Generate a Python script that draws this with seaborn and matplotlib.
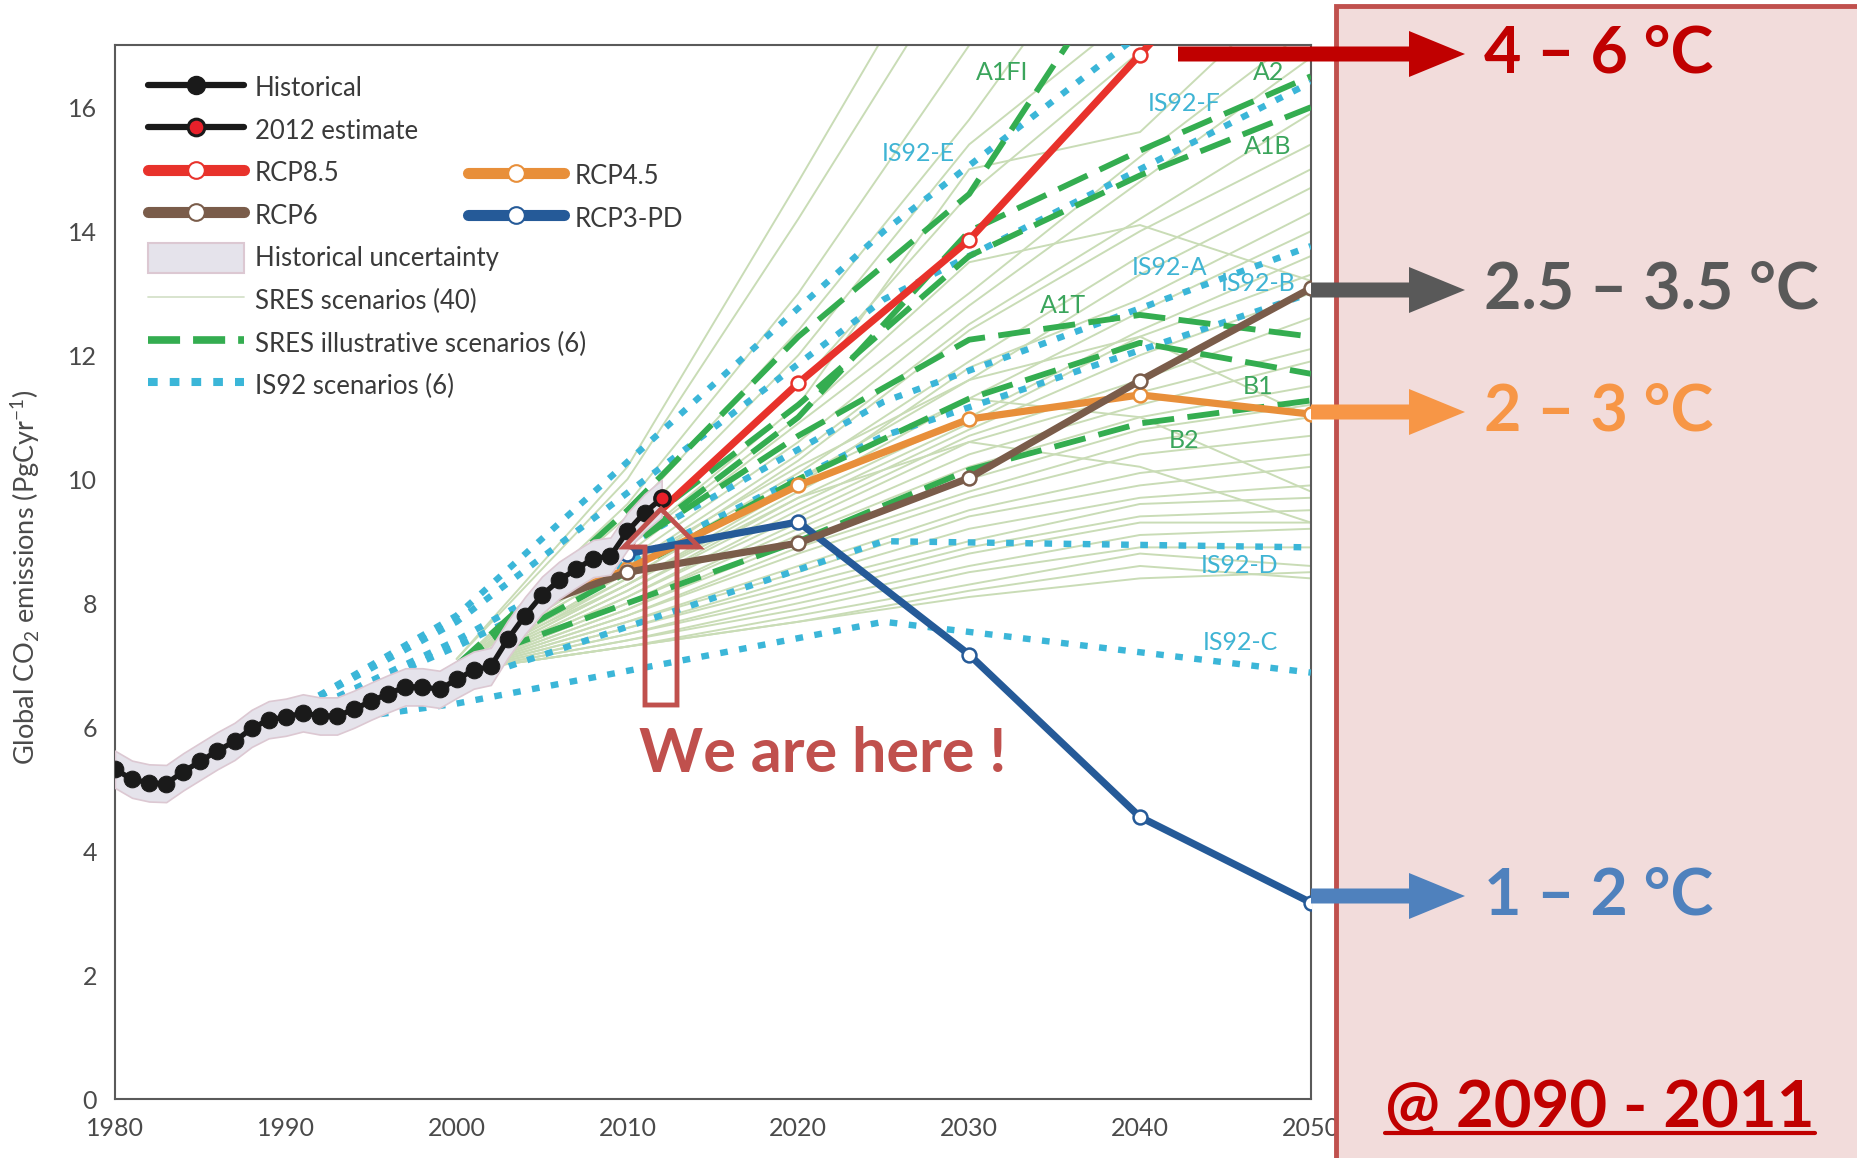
#for operations
import numpy as np
import pandas as pd

#for data visualisation
import matplotlib
matplotlib.use('Agg')
import matplotlib.pyplot as plt
import seaborn as sns
from matplotlib.lines import Line2D
from matplotlib.patches import Patch, Polygon, FancyArrow, Rectangle
from matplotlib.transforms import IdentityTransform

#historical emissions (PgC/yr)
hist_years = list(range(1980, 2013))
hist_vals = [5.32, 5.16, 5.10, 5.09, 5.28, 5.45, 5.62, 5.77, 5.98, 6.12,
             6.16, 6.23, 6.18, 6.18, 6.29, 6.42, 6.54, 6.65, 6.65, 6.61,
             6.77, 6.92, 6.98, 7.42, 7.80, 8.13, 8.37, 8.55, 8.72, 8.76,
             9.16, 9.46, 9.69]
est_year = 2012
est_val = 9.69
hist_unc = 0.3

#RCP pathways
rcp_years = [2005, 2010, 2020, 2030, 2040, 2050]
rcp85 = [8.0, 9.0, 11.55, 13.86, 16.85, 19.8]
rcp6 = [8.0, 8.5, 8.97, 10.02, 11.59, 13.08]
rcp45 = [8.0, 8.55, 9.9, 10.97, 11.36, 11.05]
rcp3pd = [8.0, 8.8, 9.31, 7.17, 4.55, 3.17]

#SRES illustrative scenarios
sres_years = [2000, 2010, 2020, 2030, 2040, 2050]
a1fi = [7.0, 9.5, 12.3, 14.6, 18.8, 23.0]
a1b = [7.0, 9.1, 11.2, 13.6, 14.9, 16.0]
a2 = [7.0, 8.9, 11.0, 14.0, 15.3, 16.5]
a1t = [7.0, 8.9, 10.7, 12.25, 12.65, 12.3]
b1 = [7.0, 8.5, 10.0, 11.3, 12.2, 11.7]
b2 = [7.0, 8.0, 9.0, 10.15, 10.9, 11.27]

#IS92 scenarios
is92_years = [1990, 2000, 2025, 2050]
is92_a = [6.1, 7.4, 11.25, 13.76]
is92_b = [6.1, 7.3, 10.7, 13.0]
is92_c = [6.0, 6.38, 7.7, 6.88]
is92_d = [6.1, 6.7, 9.0, 8.9]
is92_e = [6.2, 7.8, 14.0, 19.3]
is92_f = [6.2, 7.7, 12.9, 16.4]

#SRES scenarios (40), one value per run for each year
sres_2000 = [7.1, 7.1, 7.0, 7.0, 7.0, 7.0, 7.0, 7.0, 7.0, 7.0,
             6.9, 6.9, 6.9, 6.9, 6.9, 6.9, 6.9, 6.9, 6.9, 6.9,
             6.9, 6.9, 6.9, 6.9, 6.9, 6.9, 6.9, 6.9, 6.9, 6.9,
             6.9, 6.9, 6.9, 6.9, 6.9, 6.9, 7.0, 7.0, 7.0, 7.0]
sres_2010 = [10.2, 10.0, 9.6, 9.4, 9.2, 9.0, 8.9, 8.8, 8.7, 8.6,
             8.5, 8.5, 8.4, 8.3, 8.3, 8.2, 8.2, 8.1, 8.1, 8.0,
             8.0, 7.9, 7.9, 7.8, 7.8, 7.7, 7.7, 7.6, 7.6, 7.5,
             7.5, 7.4, 7.4, 7.3, 7.3, 7.3, 8.4, 8.3, 8.6, 8.9]
sres_2020 = [14.8, 14.2, 13.0, 12.4, 12.0, 11.5, 11.2, 10.9, 10.6, 10.4,
             10.3, 10.1, 10.0, 9.9, 9.8, 9.7, 9.6, 9.5, 9.4, 9.3,
             9.2, 9.1, 9.0, 8.9, 8.8, 8.6, 8.5, 8.4, 8.3, 8.2,
             8.1, 8.0, 7.9, 7.8, 7.7, 7.7, 10.0, 9.7, 10.2, 11.0]
sres_2030 = [19.5, 18.6, 17.0, 15.8, 15.4, 14.6, 15.0, 13.0, 12.8, 12.5,
             12.4, 11.9, 11.6, 11.8, 11.3, 11.0, 10.9, 10.8, 10.7, 10.6,
             10.4, 10.2, 10.0, 9.8, 9.7, 9.5, 9.4, 9.2, 9.0, 8.9,
             8.8, 8.6, 8.5, 8.3, 8.2, 8.1, 11.3, 10.6, 11.6, 13.5]
sres_2040 = [24.0, 23.0, 21.0, 19.6, 17.6, 16.9, 15.6, 15.2, 14.8, 14.2,
             14.0, 13.6, 13.3, 12.9, 12.7, 12.4, 12.3, 12.0, 11.6, 11.4,
             11.2, 11.0, 10.8, 10.6, 10.4, 10.1, 9.9, 9.7, 9.6, 9.4,
             9.3, 9.1, 8.9, 8.8, 8.6, 8.4, 11.0, 10.2, 12.3, 14.1]
sres_2050 = [28.0, 27.0, 24.0, 22.0, 20.5, 19.5, 18.2, 17.3, 16.8, 15.9,
             15.4, 15.0, 14.7, 14.3, 14.0, 13.6, 13.3, 13.0, 12.6, 12.1,
             11.9, 11.5, 11.2, 11.0, 10.7, 10.4, 10.2, 9.9, 9.7, 9.5,
             9.3, 9.2, 8.9, 8.6, 8.4, 8.5, 9.8, 9.3, 11.0, 13.2]

#colours
c_red = '#E8322B'
c_orange = '#E88F3A'
c_brown = '#7A5C4A'
c_blue = '#255A98'
c_green = '#34AD50'
c_cyan = '#3BB6D8'
c_thin = '#C9DCB6'
c_text = '#4a4a4a'

sns.set_theme(style='white')
plt.rcParams['font.family'] = ['Lato', 'DejaVu Sans']

fig = plt.figure(figsize=(18.57, 11.58), dpi=100)
ax = fig.add_axes([0.0619, 0.0509, 0.644, 0.910])

#thin SRES runs
sres_cols = [sres_2000, sres_2010, sres_2020, sres_2030, sres_2040, sres_2050]
rows = []
for yr, col in zip(sres_years, sres_cols):
    for run, v in enumerate(col):
        rows.append((run, yr, v))
sres_df = pd.DataFrame(rows, columns=['run', 'year', 'value'])
sns.lineplot(data=sres_df, x='year', y='value', units='run', estimator=None,
             color=c_thin, linewidth=1.4, ax=ax, legend=False, zorder=1)

#IS92 dotted
is92_df = pd.DataFrame({
    'scen': np.repeat(['A', 'B', 'C', 'D', 'E', 'F'], 4),
    'year': is92_years * 6,
    'value': is92_a + is92_b + is92_c + is92_d + is92_e + is92_f})
sns.lineplot(data=is92_df, x='year', y='value', units='scen', estimator=None,
             color=c_cyan, linewidth=4.6, linestyle=(0, (1.2, 1.8)), ax=ax,
             legend=False, zorder=3)

#SRES illustrative dashed
ill_df = pd.DataFrame({
    'scen': np.repeat(['A1FI', 'A1B', 'A2', 'A1T', 'B1', 'B2'], 6),
    'year': sres_years * 6,
    'value': a1fi + a1b + a2 + a1t + b1 + b2})
sns.lineplot(data=ill_df, x='year', y='value', units='scen', estimator=None,
             color=c_green, linewidth=4.2, linestyle=(0, (5.5, 2.3)), ax=ax,
             legend=False, zorder=4)

#RCPs
for vals, col, z in [(rcp45, c_orange, 5), (rcp6, c_brown, 6),
                     (rcp3pd, c_blue, 5), (rcp85, c_red, 6)]:
    sns.lineplot(x=rcp_years, y=vals, color=col, linewidth=5.2, marker='o',
                 markersize=10, markerfacecolor='white', markeredgecolor=col,
                 markeredgewidth=1.8, ax=ax, zorder=z)

#historical band and points
hv = np.array(hist_vals)
ax.fill_between(hist_years, hv - hist_unc, hv + hist_unc, facecolor='#E5E3EB',
                edgecolor='#DCC8D2', lw=1.2, zorder=7)
sns.lineplot(x=hist_years, y=hist_vals, color='#1a1a1a', linewidth=3.8, marker='o',
             markersize=12, markerfacecolor='#1a1a1a', markeredgecolor='#1a1a1a',
             ax=ax, zorder=8)
ax.plot([est_year], [est_val], 'o', ms=11, mfc='#E8202A', mec='#1a1a1a',
        mew=2.4, zorder=9)

#scenario labels
green_labels = [('A1FI', 2031.9, 16.56), ('A2', 2047.5, 16.56), ('A1B', 2047.5, 15.37),
                ('A1T', 2035.5, 12.81), ('B1', 2046.9, 11.49), ('B2', 2042.6, 10.63)]
cyan_labels = [('IS92-E', 2027.0, 15.26), ('IS92-F', 2042.6, 16.06),
               ('IS92-A', 2041.7, 13.42), ('IS92-B', 2046.9, 13.15),
               ('IS92-D', 2045.8, 8.6), ('IS92-C', 2045.9, 7.36)]
for name, x, y in green_labels:
    ax.text(x, y, name, color='#3BA55C', fontsize=18, ha='center', va='center', zorder=10)
for name, x, y in cyan_labels:
    ax.text(x, y, name, color='#3FB4D4', fontsize=18, ha='center', va='center', zorder=10)

#axes styling
ax.set_xlim(1980, 2050)
ax.set_ylim(0, 17)
ax.set_xticks(range(1980, 2051, 10))
ax.set_yticks(range(0, 17, 2))
ax.tick_params(direction='in', length=9, width=1.2, color='#555555',
               labelsize=18, labelcolor=c_text, pad=13)
for s in ax.spines.values():
    s.set_color('#5a5a5a')
    s.set_linewidth(1.5)
ax.set_xlabel('')
ax.set_ylabel(r'Global CO$_\mathregular{2}$ emissions (PgCyr$^\mathregular{-1}$)',
              fontsize=19.5, color=c_text)
ax.yaxis.set_label_coords(-0.061, 0.495)

#legend
h_hist = Line2D([], [], color='#1a1a1a', lw=4.5, marker='o', ms=13, mfc='#1a1a1a', mec='#1a1a1a')
h_est = Line2D([], [], color='#1a1a1a', lw=4.5, marker='o', ms=12, mfc='#E8202A', mec='#1a1a1a', mew=2.2)
def rcp_handle(col):
    return Line2D([], [], color=col, lw=8, marker='o', ms=12, mfc='white', mec=col, mew=1.5)
h_unc = Patch(facecolor='#E5E3EB', edgecolor='#DCC8D2', lw=1.5)
h_sres = Line2D([], [], color='#D5E2CA', lw=1.3)
h_ill = Line2D([], [], color=c_green, lw=5.5, ls=(0, (4.2, 1.7)))
h_is92 = Line2D([], [], color=c_cyan, lw=5.8, ls=(0, (1.2, 1.5)))

leg_kw = dict(frameon=False, fontsize=18.5, handlelength=3.75, handleheight=1.4,
              labelspacing=0.5, handletextpad=0.4, borderpad=0, borderaxespad=0,
              labelcolor='#3a3a3a', loc='upper left', bbox_transform=fig.transFigure)
leg1 = ax.legend([h_hist, h_est, rcp_handle(c_red), rcp_handle(c_brown), h_unc,
                  h_sres, h_ill, h_is92],
                 ['Historical', '2012 estimate', 'RCP8.5', 'RCP6', 'Historical uncertainty',
                  'SRES scenarios (40)', 'SRES illustrative scenarios (6)', 'IS92 scenarios (6)'],
                 bbox_to_anchor=(148 / 1857, 1 - 73 / 1158), **leg_kw)
ax.add_artist(leg1)
ax.legend([rcp_handle(c_orange), rcp_handle(c_blue)], ['RCP4.5', 'RCP3-PD'],
          bbox_to_anchor=(468 / 1857, 1 - 161 / 1158), **leg_kw)

#right hand panel
W, H = 1857, 1158
fig.add_artist(Rectangle((1336 / W, -0.01), 0.3, 1.01 - 6 / H, transform=fig.transFigure,
                         facecolor='#F2DCDB', edgecolor='#C0504D', lw=3.5, zorder=1))

def px_arrow(x0, x1, ytop, col):
    y = H - ytop
    fig.add_artist(FancyArrow(x0, y, x1 - x0, 0, width=15, head_width=46, head_length=56,
                              length_includes_head=True, color=col, lw=0,
                              transform=IdentityTransform(), zorder=5))

temps = [('4 – 6 °C', '#C00000', 1178, 54), ('2.5 – 3.5 °C', '#595959', 1311, 290),
         ('2 – 3 °C', '#F79646', 1311, 412), ('1 – 2 °C', '#4F81BD', 1311, 896)]
for label, col, x0, ytop in temps:
    px_arrow(x0, 1465, ytop, col)
    fig.text(1484 / W, 1 - ytop / H, label, color=col, fontsize=46.5, fontweight='bold',
             ha='left', va='center', zorder=6)

t_at = fig.text(1600 / W, 31 / H, '@ 2090 - 2011', color='#C00000', fontsize=47,
                fontweight='bold', ha='center', va='baseline', zorder=6)
fig.canvas.draw()
bb = t_at.get_window_extent()
fig.add_artist(Line2D([bb.x0, bb.x1], [25, 25], color='#C00000', lw=3,
                      transform=IdentityTransform(), zorder=6))

#"we are here" marker
fig.text(823 / W, 1 - 754 / H, 'We are here !', color='#C0504D', fontsize=44,
         fontweight='bold', ha='center', va='center', zorder=6)
arrow_px = [(661, 509), (699, 547), (677, 547), (677, 705), (645, 705), (645, 547), (624, 547)]
fig.add_artist(Polygon([(x / W, 1 - y / H) for x, y in arrow_px], closed=True, fill=False,
                       edgecolor='#C0504D', lw=3.5, transform=fig.transFigure, zorder=6))

fig.savefig('out.png', dpi=100)
